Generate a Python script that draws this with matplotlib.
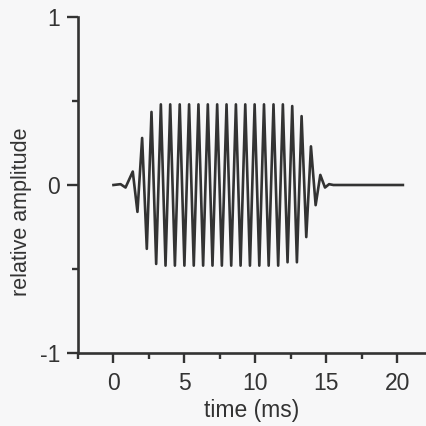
import matplotlib
matplotlib.use("Agg")
import matplotlib.pyplot as plt

# Tone burst: time (ms) and relative amplitude at each turning point of the trace
burst_t = [0.00, 0.50, 0.85,
           1.36, 1.69, 2.02, 2.35, 2.68, 3.01, 3.34, 3.67, 4.00, 4.33,
           4.67, 5.00, 5.33, 5.66, 5.99, 6.32, 6.65, 6.98, 7.31, 7.64,
           7.97, 8.30, 8.63, 8.96, 9.29, 9.62, 9.95, 10.28, 10.61, 10.94,
           11.28, 11.61, 11.94, 12.27, 12.60, 12.93, 13.26, 13.59, 13.92,
           14.25, 14.58, 14.91, 15.20, 15.50, 20.40]
burst_amp = [0.00, 0.005, -0.015,
             0.08, -0.16, 0.28, -0.38, 0.435, -0.47, 0.48, -0.48, 0.48, -0.48,
             0.48, -0.48, 0.48, -0.48, 0.48, -0.48, 0.48, -0.48, 0.48, -0.48,
             0.48, -0.48, 0.48, -0.48, 0.48, -0.48, 0.48, -0.48, 0.48, -0.48,
             0.48, -0.48, 0.48, -0.46, 0.47, -0.46, 0.41, -0.31, 0.23,
             -0.12, 0.06, -0.015, 0.005, 0.00, 0.00]

x_major = [0, 5, 10, 15, 20]
x_major_labels = ["0", "5", "10", "15", "20"]
x_minor = [-2.5, 2.5, 7.5, 12.5, 17.5]
y_major = [-1, 0, 1]
y_major_labels = ["-1", "0", "1"]
y_minor = [-0.5, 0.5]

ink = "#333333"
paper = "#f7f7f8"
font = "Liberation Sans"

fig = plt.figure(figsize=(4.27, 4.26), dpi=100, facecolor=paper)
ax = fig.add_axes([78 / 427, 73 / 426, 349 / 427, 336 / 426])
ax.set_facecolor(paper)

ax.plot(burst_t, burst_amp, color=ink, lw=1.9, solid_joinstyle="round")

ax.set_xlim(-2.5, 22.1)
ax.set_ylim(-1, 1)

for side in ("top", "right"):
    ax.spines[side].set_visible(False)
for side in ("left", "bottom"):
    ax.spines[side].set_color(ink)
    ax.spines[side].set_linewidth(1.9)

ax.set_xticks(x_major)
ax.set_xticklabels(x_major_labels)
ax.set_xticks(x_minor, minor=True)
ax.set_yticks(y_major)
ax.set_yticklabels(y_major_labels)
ax.set_yticks(y_minor, minor=True)

ax.tick_params(axis="both", which="major", direction="out", color=ink,
               width=1.7, labelcolor=ink, labelsize=16.5)
ax.tick_params(axis="x", which="major", length=7, pad=7)
ax.tick_params(axis="y", which="major", length=8, pad=5)
ax.tick_params(axis="both", which="minor", direction="out", color=ink,
               width=1.7, length=4)
for lab in ax.get_xticklabels() + ax.get_yticklabels():
    lab.set_family(font)

fig.text(251.7 / 427, 1 - 410 / 426, "time (ms)", ha="center", va="center",
         fontsize=16.5, color=ink, family=font)
fig.text(22 / 427, 1 - 211.5 / 426, "relative amplitude", ha="center",
         va="center", rotation=90, fontsize=15.5, color=ink, family=font)

fig.savefig("out.png", dpi=100, facecolor=paper)
